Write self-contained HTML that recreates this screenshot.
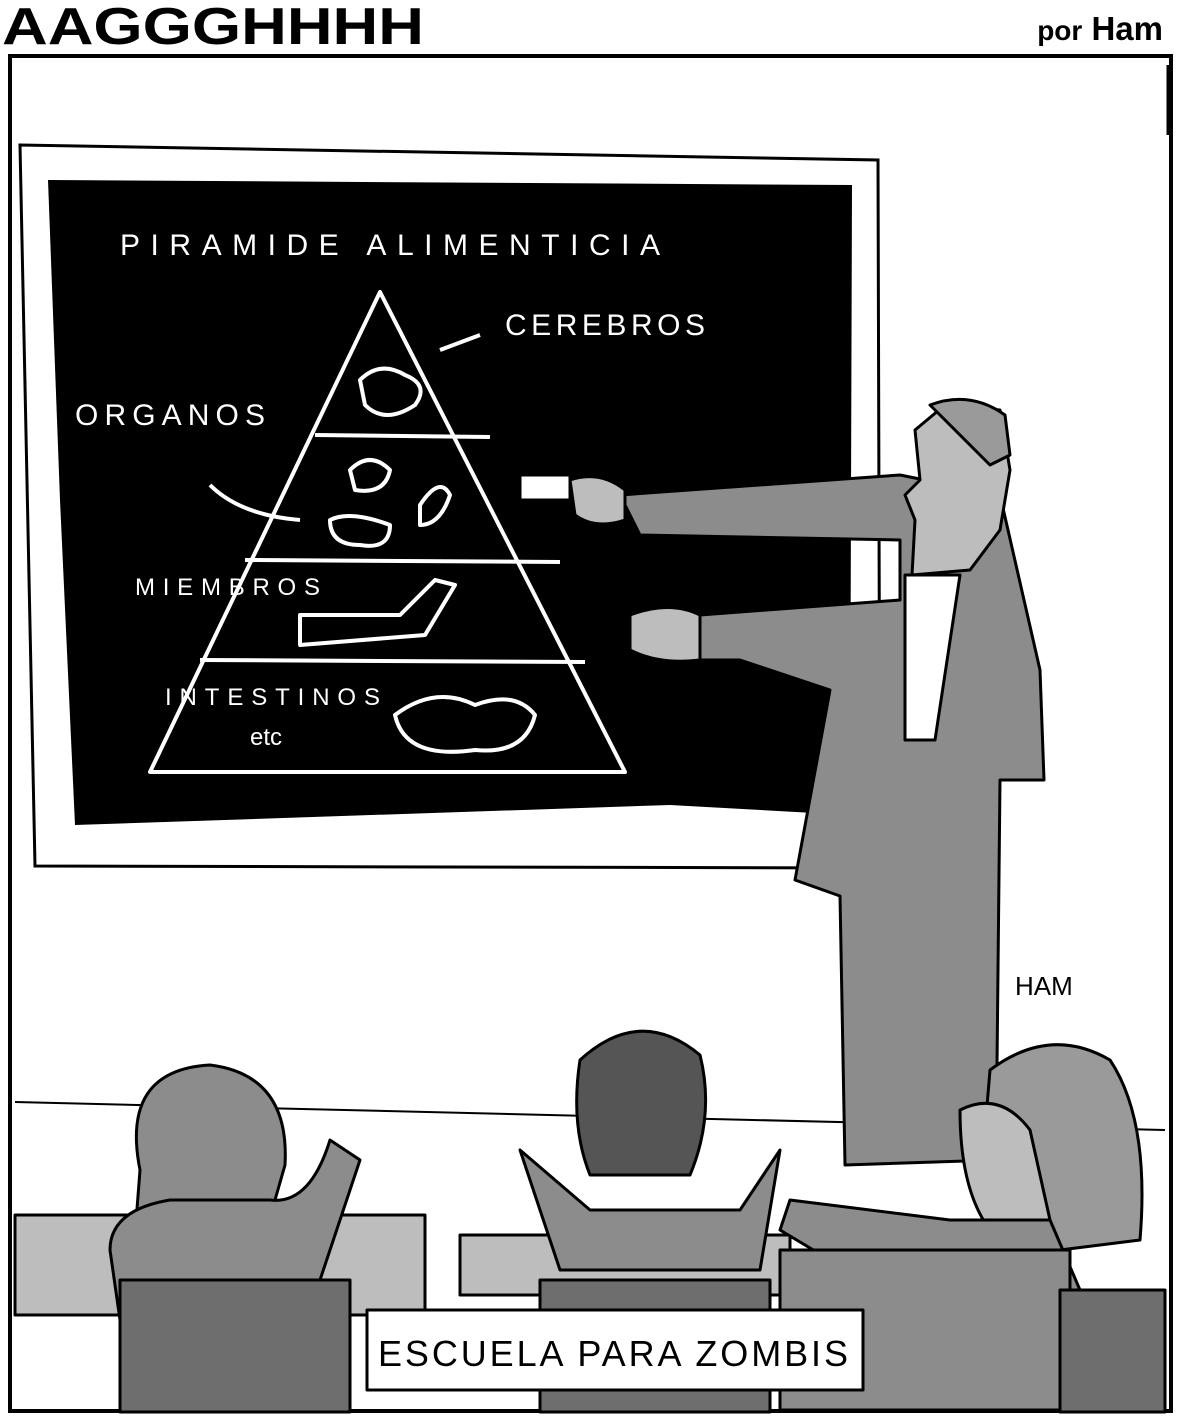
<!DOCTYPE html>
<html><head><meta charset="utf-8"><style>
html,body{margin:0;padding:0;background:#fff;}
svg{display:block}
</style></head><body>
<svg width="1181" height="1417" viewBox="0 0 1181 1417" xmlns="http://www.w3.org/2000/svg">
<rect width="1181" height="1417" fill="#fff"/>
<text x="2" y="44" font-family="Liberation Sans, sans-serif" font-weight="bold" font-size="52" textLength="422" lengthAdjust="spacingAndGlyphs" fill="#000">AAGGGHHHH</text>
<text x="1163" y="40" text-anchor="end" font-family="Liberation Sans, sans-serif" font-weight="bold" font-size="33" fill="#000"><tspan font-size="28">por</tspan> Ham</text>
<rect x="10" y="56" width="1161" height="1355" fill="none" stroke="#000" stroke-width="4"/>
<line x1="1168" y1="65" x2="1168" y2="135" stroke="#000" stroke-width="3"/>
<line x1="15" y1="1102" x2="1165" y2="1130" stroke="#000" stroke-width="2"/>
<polygon points="20,145 878,160 880,868 35,866" fill="#fff" stroke="#000" stroke-width="3"/>
<polygon points="48,180 852,185 850,815 670,805 75,825 60,500" fill="#000"/>
<g fill="none" stroke="#fff" stroke-width="4" stroke-linejoin="round">
<polygon points="380,292 150,772 625,772"/>
<line x1="315" y1="435" x2="490" y2="437"/>
<line x1="245" y1="560" x2="560" y2="562"/>
<line x1="200" y1="660" x2="585" y2="662"/>
<path d="M360,380 q20,-20 45,-5 q25,10 10,30 q-30,20 -50,0 z"/>
<path d="M350,470 q20,-20 40,0 q-5,25 -35,20 z M330,520 q20,-10 60,5 q0,25 -30,20 q-30,0 -30,-25 z M420,505 q20,-30 30,-10 q-10,30 -30,30 z"/>
<path d="M300,615 l100,0 l20,-20 l15,-15 l20,5 l-30,50 l-125,10 z"/>
<path d="M395,715 q40,-30 80,-10 q40,-15 60,10 q-10,40 -60,35 q-70,10 -80,-35 z"/>
<path d="M440,350 l40,-15 M210,485 q30,30 90,35"/>
</g>
<g font-family="Liberation Sans, sans-serif" fill="#fff" font-size="30">
<text x="120" y="255" textLength="540">PIRAMIDE ALIMENTICIA</text>
<text x="505" y="335" textLength="200">CEREBROS</text>
<text x="75" y="425" textLength="190">ORGANOS</text>
<text x="135" y="595" font-size="24" textLength="185">MIEMBROS</text>
<text x="165" y="705" font-size="24" textLength="215">INTESTINOS</text>
<text x="250" y="745" font-size="24">etc</text>
</g>
<g stroke="#000" stroke-width="3" stroke-linejoin="round">
<polygon points="620,495 900,475 1000,495 1040,670 1044,780 1000,780 996,1160 845,1165 840,896 795,880 830,690 740,660 700,660 700,615 900,600 900,540 640,535" fill="#8c8c8c"/>
<polygon points="915,430 945,405 1000,410 1010,470 1000,530 970,570 912,575 915,520 905,495 920,480" fill="#bdbdbd"/>
<path d="M930,405 q40,-15 75,10 l5,40 l-20,10 z" fill="#9a9a9a"/>
<rect x="520" y="475" width="50" height="25" fill="#fff"/>
<path d="M570,480 q30,-10 55,10 l0,30 q-30,10 -50,-5 z" fill="#bdbdbd"/>
<path d="M630,615 q40,-15 70,0 l0,45 q-40,5 -70,-10 z" fill="#bdbdbd"/>
<polygon points="905,575 960,575 935,740 905,740" fill="#fff"/>
</g>
<g stroke="#000" stroke-width="3" stroke-linejoin="round">
<rect x="15" y="1215" width="410" height="100" fill="#bdbdbd"/>
<path d="M140,1170 q-20,-100 70,-105 q80,10 75,100 l-20,70 l-130,0 z" fill="#8c8c8c"/>
<path d="M110,1250 q0,-40 60,-50 l100,0 q40,5 60,-60 l30,20 l-40,120 l-200,40 z" fill="#8c8c8c"/>
<rect x="120" y="1280" width="230" height="132" fill="#6e6e6e"/>
<rect x="460" y="1235" width="330" height="60" fill="#bdbdbd"/>
<path d="M580,1060 q60,-55 120,-5 q15,60 -10,120 l-100,0 q-20,-50 -10,-115 z" fill="#555"/>
<path d="M520,1150 l40,120 l200,0 l20,-120 l-40,60 l-150,0 z" fill="#8c8c8c"/>
<rect x="540" y="1280" width="230" height="132" fill="#6e6e6e"/>
<path d="M990,1070 q60,-45 120,-10 q40,60 30,180 l-80,10 l-80,-60 z" fill="#9a9a9a"/>
<path d="M960,1110 q40,-20 70,20 l20,90 l-60,10 q-30,-40 -30,-120 z" fill="#bdbdbd"/>
<path d="M790,1200 l160,20 l100,0 l30,70 l-150,30 l-150,-90 z" fill="#8c8c8c"/>
<rect x="780" y="1250" width="290" height="160" fill="#8c8c8c"/>
<rect x="1060" y="1290" width="105" height="122" fill="#6e6e6e"/>
<rect x="367" y="1310" width="496" height="80" fill="#fff"/>
</g>
<text x="378" y="1366" font-family="Liberation Sans, sans-serif" font-size="36" textLength="470" fill="#000">ESCUELA PARA ZOMBIS</text>
<text x="1015" y="995" font-family="Liberation Sans, sans-serif" font-size="26" fill="#000">HAM</text>
</svg>
</body></html>
